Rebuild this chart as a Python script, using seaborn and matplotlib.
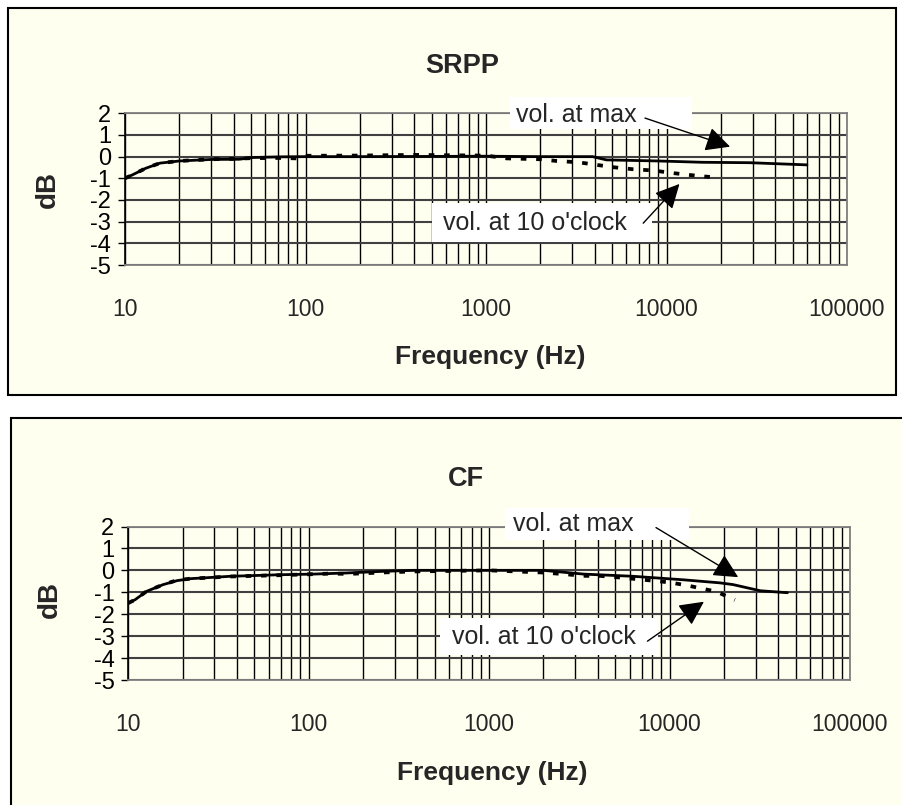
import numpy as np
import pandas as pd
import matplotlib
matplotlib.use("Agg")
import matplotlib.pyplot as plt
import seaborn as sns
from matplotlib.patches import Rectangle
from matplotlib.ticker import LogLocator, NullFormatter

# ---------------- data ----------------
x_ticks = [10, 100, 1000, 10000, 100000]
x_tick_labels = ["10", "100", "1000", "10000", "100000"]
y_ticks = [-5, -4, -3, -2, -1, 0, 1, 2]

srpp_max_freq = [10, 11, 13, 15.6, 20, 30, 43, 51, 72, 100, 200, 500, 1000,
                 2000, 3900, 4650, 9000, 15800, 29000, 60000]
srpp_max_db = [-1.0, -0.84, -0.54, -0.3, -0.2, -0.13, -0.12, -0.04, -0.01, 0.0,
               0.0, 0.01, 0.02, 0.0, 0.0, -0.15, -0.2, -0.26, -0.28, -0.38]

srpp_10_freq = [10, 11, 13, 15.6, 20, 30, 40, 50, 70, 89, 100, 200, 400, 700,
                1000, 1300, 2000, 2460, 3250, 4100, 5100, 6500, 8500, 10400,
                13200, 18000]
srpp_10_db = [-1.0, -0.84, -0.54, -0.3, -0.2, -0.12, -0.1, -0.07, -0.06, -0.08,
              0.04, 0.05, 0.08, 0.06, 0.05, -0.08, -0.12, -0.2, -0.26, -0.38,
              -0.49, -0.58, -0.64, -0.74, -0.84, -0.95]

cf_max_freq = [10, 10.9, 12.6, 15.6, 18.6, 22, 37, 69, 106, 162, 248, 380, 1000,
               2000, 3330, 6250, 11900, 19000, 22500, 31800, 45000]
cf_max_db = [-1.49, -1.34, -0.96, -0.65, -0.47, -0.38, -0.27, -0.2, -0.17, -0.12,
             -0.05, 0.0, 0.0, 0.0, -0.17, -0.27, -0.43, -0.57, -0.65, -0.93, -1.02]

cf_10_freq = [10, 10.9, 12.6, 15.6, 18.6, 22, 37, 69, 100, 130, 170, 250, 380,
              1000, 2000, 2680, 3330, 4100, 5200, 6600, 8300, 10000, 12400,
              14900, 18200, 23000]
cf_10_db = [-1.49, -1.34, -0.96, -0.65, -0.45, -0.38, -0.28, -0.22, -0.18, -0.15,
            -0.16, -0.1, -0.05, 0.0, -0.1, -0.18, -0.25, -0.25, -0.32, -0.4,
            -0.48, -0.55, -0.68, -0.82, -0.97, -1.35]

label_max = "vol. at max"
label_10 = "vol. at 10 o'clock"

# ---------------- style ----------------
sns.set_style("white")
plt.rcParams['font.family'] = ['Liberation Sans', 'DejaVu Sans']

W, H = 903, 805
fig = plt.figure(figsize=(W / 100, H / 100), dpi=100)
fig.patch.set_facecolor('white')
cream = '#FFFFF0'


def fx(x):
    return x / W


def fy(y):
    return 1 - y / H


# panel frames
for (x0, y0, x1, y1) in [(8, 8, 896, 395), (11, 418, 908, 812)]:
    fig.add_artist(Rectangle((fx(x0), fy(y1)), fx(x1) - fx(x0), fy(y0) - fy(y1),
                             transform=fig.transFigure, facecolor=cream,
                             edgecolor='black', linewidth=1.5, zorder=0))


def make_panel(rect_px, title, title_xy, xlabel_xy, ylabel_xy,
               fmax, dmax, f10, d10, ann):
    x0, y0, x1, y1 = rect_px
    ax = fig.add_axes([fx(x0), fy(y1), fx(x1) - fx(x0), fy(y0) - fy(y1)])
    ax.set_facecolor('none')
    ax.set_axisbelow(True)

    df_max = pd.DataFrame({'freq': fmax, 'dB': dmax})
    df_10 = pd.DataFrame({'freq': f10, 'dB': d10})
    sns.lineplot(data=df_max, x='freq', y='dB', ax=ax, color='black',
                 linewidth=2.0, estimator=None, zorder=2)
    sns.lineplot(data=df_10, x='freq', y='dB', ax=ax, color='black',
                 linewidth=2.7, linestyle=(0, (1.5, 2.6)), estimator=None,
                 dash_capstyle='butt', zorder=2)

    ax.set_xscale('log')
    ax.set_xlim(10, 100000)
    ax.set_ylim(-5, 2)
    ax.set_xticks(x_ticks)
    ax.set_xticklabels(x_tick_labels)
    ax.xaxis.set_minor_locator(LogLocator(base=10, subs=np.arange(2, 10)))
    ax.xaxis.set_minor_formatter(NullFormatter())
    ax.set_yticks(y_ticks)
    ax.set_yticklabels([str(v) for v in y_ticks])
    ax.grid(True, which='both', axis='x', color='black', linewidth=1.0)
    ax.grid(True, which='major', axis='y', color='#404040', linewidth=1.5)
    ax.tick_params(axis='x', which='both', length=0, pad=24, labelsize=16.5)
    ax.tick_params(axis='y', length=5, width=1, direction='out', colors='black',
                   pad=5, labelsize=17, left=True)
    for s in ['top', 'right', 'bottom']:
        ax.spines[s].set_color('#808080')
        ax.spines[s].set_linewidth(1.3)
    ax.spines['left'].set_color('black')
    ax.spines['left'].set_linewidth(1.2)
    ax.set_xlabel('')
    ax.set_ylabel('')
    leg = ax.get_legend()
    if leg is not None:
        leg.remove()

    for (box, txt_xy, txt, tail, tip) in ann:
        bx0, by0, bx1, by1 = box
        ax.add_patch(Rectangle((bx0, by0), bx1 - bx0, by1 - by0,
                               transform=ax.transAxes, facecolor='white',
                               edgecolor='none', clip_on=False, zorder=3))
        ax.text(txt_xy[0], txt_xy[1], txt, transform=ax.transAxes,
                ha='center', va='center', fontsize=18, zorder=4)
        ax.annotate('', xy=tip, xytext=tail, xycoords='data',
                    textcoords='data', annotation_clip=False,
                    arrowprops=dict(arrowstyle='-|>,head_length=1.0,head_width=0.5',
                                    mutation_scale=15, color='black', lw=1.0,
                                    shrinkA=0, shrinkB=0),
                    zorder=5)

    fig.text(fx(title_xy[0]), fy(title_xy[1]), title, ha='center', va='center',
             fontsize=19.5, fontweight='bold')
    fig.text(fx(xlabel_xy[0]), fy(xlabel_xy[1]), 'Frequency (Hz)', ha='center',
             va='center', fontsize=19, fontweight='bold')
    fig.text(fx(ylabel_xy[0]), fy(ylabel_xy[1]), 'dB', ha='center', va='center',
             fontsize=20, fontweight='bold', rotation=90)
    return ax


make_panel((125, 113.3, 847, 265), 'SRPP', (462, 66), (490, 357), (48, 190),
           srpp_max_freq, srpp_max_db, srpp_10_freq, srpp_10_db,
           [((0.533, 0.897, 0.785, 1.107), (0.625, 0.989), label_max,
             (7600, 1.78), (22500, 0.46)),
            ((0.425, 0.152, 0.730, 0.409), (0.568, 0.277), label_10,
             (7430, -3.07), (11800, -1.26))])

make_panel((128.3, 526.5, 850, 680), 'CF', (466, 479), (492, 773), (50, 600),
           cf_max_freq, cf_max_db, cf_10_freq, cf_10_db,
           [((0.522, 0.912, 0.777, 1.12), (0.617, 1.016), label_max,
             (8410, 1.95), (24000, -0.31)),
            ((0.432, 0.163, 0.734, 0.402), (0.576, 0.282), label_10,
             (7540, -3.23), (15500, -1.43))])

fig.savefig('out.png', dpi=100, facecolor='white')
